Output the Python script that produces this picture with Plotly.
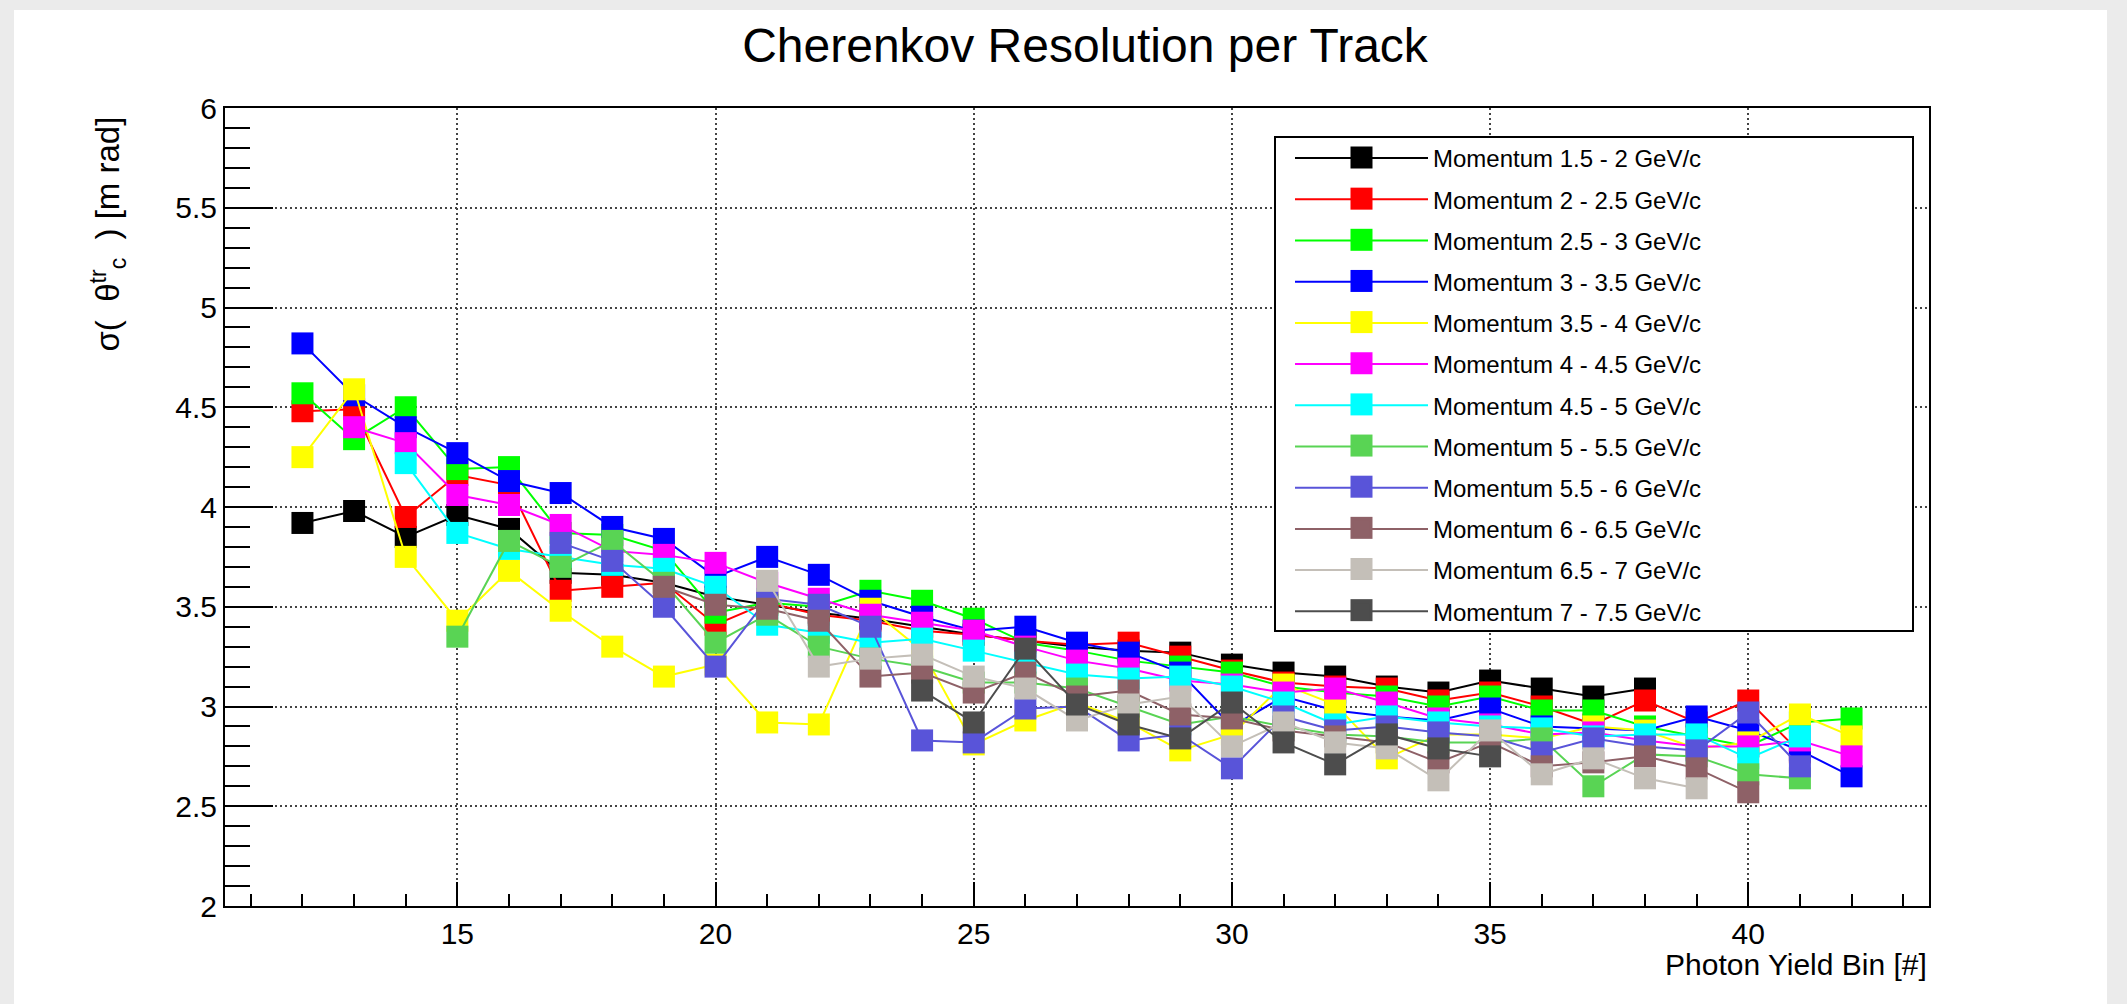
import plotly.graph_objects as go

# ---------------- data ----------------
photon_bins = [12, 13, 14, 15, 16, 17, 18, 19, 20, 21, 22, 23, 24, 25, 26, 27,
               28, 29, 30, 31, 32, 33, 34, 35, 36, 37, 38, 39, 40, 41, 42]

series_names = [
    "Momentum 1.5 - 2 GeV/c", "Momentum 2 - 2.5 GeV/c", "Momentum 2.5 - 3 GeV/c",
    "Momentum 3 - 3.5 GeV/c", "Momentum 3.5 - 4 GeV/c", "Momentum 4 - 4.5 GeV/c",
    "Momentum 4.5 - 5 GeV/c", "Momentum 5 - 5.5 GeV/c", "Momentum 5.5 - 6 GeV/c",
    "Momentum 6 - 6.5 GeV/c", "Momentum 6.5 - 7 GeV/c", "Momentum 7 - 7.5 GeV/c",
]

N = None
mom_1p5_2 = [3.92, 3.98, 3.85, 3.96, 3.89, 3.67, 3.66, 3.62, 3.55, 3.51, 3.47, 3.44, 3.40, 3.36, 3.33, 3.30,
             3.28, 3.27, 3.21, 3.17, 3.15, 3.10, 3.07, 3.13, 3.09, 3.05, 3.09, N, N, N, N]
mom_2_2p5 = [4.48, 4.49, 3.95, 4.16, 4.11, 3.58, 3.60, 3.62, 3.41, 3.52, 3.46, 3.43, 3.38, 3.36, 3.33, 3.31,
             3.32, 3.25, 3.18, 3.12, 3.10, 3.09, 3.03, 3.07, 3.00, 2.91, 3.03, 2.92, 3.03, 2.77, N]
mom_2p5_3 = [4.57, 4.34, 4.50, 4.19, 4.20, 3.87, 3.86, 3.78, 3.47, 3.52, 3.50, 3.58, 3.53, 3.44, 3.32, 3.28,
             3.23, 3.20, 3.17, 3.10, 3.07, 3.05, 3.00, 3.05, 2.98, 2.98, 2.90, 2.85, 2.80, 2.92, 2.94]
mom_3_3p5 = [4.82, 4.56, 4.40, 4.27, 4.13, 4.07, 3.90, 3.84, 3.65, 3.75, 3.66, 3.53, 3.45, 3.38, 3.40, 3.32,
             3.27, 3.17, 2.90, 3.05, 2.98, 2.95, 2.93, 2.99, 2.90, 2.89, 2.88, 2.95, 2.88, 2.78, 2.65]
mom_3p5_4 = [4.25, 4.59, 3.75, 3.43, 3.68, 3.48, 3.30, 3.15, 3.21, 2.92, 2.91, 3.49, 3.28, 2.81, 2.93, 3.02,
             2.92, 2.78, 2.86, 3.11, 3.01, 2.74, 2.86, 2.86, 2.84, 2.90, 2.88, 2.79, 2.82, 2.96, 2.85]
mom_4_4p5 = [N, 4.40, 4.32, 4.06, 4.01, 3.91, 3.78, 3.76, 3.72, 3.62, 3.54, 3.46, 3.42, 3.38, 3.30, 3.23,
             3.19, 3.13, 3.11, 3.07, 3.09, 3.02, 2.94, 2.91, 2.86, 2.87, 2.83, 2.80, 2.80, 2.83, 2.75]
mom_4p5_5 = [N, N, 4.22, 3.87, 3.79, 3.75, 3.71, 3.69, 3.60, 3.41, 3.37, 3.32, 3.34, 3.28, 3.22, 3.16,
             3.14, 3.15, 3.10, 3.02, 2.91, 2.95, 2.92, 2.90, 2.89, 2.85, 2.86, 2.86, 2.74, 2.85, N]
mom_5_5p5 = [N, N, N, 3.35, 3.83, 3.70, 3.83, 3.62, 3.32, 3.46, 3.30, 3.24, 3.20, 3.12, 3.12, 3.09,
             3.00, 2.91, 2.95, 2.90, 2.86, 2.85, 2.82, 2.82, 2.84, 2.60, 2.76, 2.75, 2.66, 2.64, N]
mom_5p5_6 = [N, N, N, N, N, 3.82, 3.73, 3.50, 3.20, 3.54, 3.51, 3.40, 2.83, 2.82, 2.99, 3.00,
             2.83, 2.86, 2.69, 2.95, 2.88, 2.90, 2.87, 2.85, 2.77, 2.84, 2.80, 2.78, 2.97, 2.70, N]
mom_6_6p5 = [N, N, N, N, N, N, N, 3.60, 3.51, 3.49, 3.43, 3.15, 3.17, 3.07, 3.17, 3.05,
             3.08, 2.96, 2.94, 2.88, 2.85, 2.82, 2.72, 2.82, 2.70, 2.72, 2.75, 2.69, 2.57, N, N]
mom_6p5_7 = [N, N, N, N, N, N, N, N, N, 3.63, 3.20, 3.24, 3.26, 3.15, 3.09, 2.93,
             3.01, 3.05, 2.80, 2.92, 2.82, 2.79, 2.63, 2.88, 2.66, 2.74, 2.64, 2.59, N, N, N]
mom_7_7p5 = [N, N, N, N, N, N, N, N, N, N, N, N, 3.08, 2.92, 3.29, 3.01,
             2.91, 2.84, 3.02, 2.82, 2.71, 2.86, 2.79, 2.75, N, N, N, N, N, N, N]

series_values = [mom_1p5_2, mom_2_2p5, mom_2p5_3, mom_3_3p5, mom_3p5_4, mom_4_4p5,
                 mom_4p5_5, mom_5_5p5, mom_5p5_6, mom_6_6p5, mom_6p5_7, mom_7_7p5]

series_colors = ["#000000", "#ff0000", "#00ff00", "#0000ff", "#ffff00", "#ff00ff",
                 "#00ffff", "#59d454", "#5954d9", "#8e6167", "#c4bfb8", "#4d4d4d"]

x_ticks = [15, 20, 25, 30, 35, 40]
y_ticks = [2, 2.5, 3, 3.5, 4, 4.5, 5, 5.5, 6]

# ---------------- layout geometry (pixels) ----------------
W, H = 2127, 1004
L, R, T, B = 225, 1929, 108, 906
PW, PH = R - L, B - T


def px(x):
    return (x - L) / PW


def py(y):
    return (B - y) / PH


FONT = "Liberation Sans, Arial, Helvetica, sans-serif"

fig = go.Figure()
for i, (name, vals, col) in enumerate(zip(series_names, series_values, series_colors)):
    fig.add_trace(go.Scatter(
        x=photon_bins, y=vals, name=name, mode="lines+markers",
        line=dict(color=col, width=2),
        marker=dict(symbol="square", size=22, color=col, line=dict(width=0)),
        legendgroup="g%d" % i,
        connectgaps=False,
    ))

shapes = [
    # white page panel on grey background
    dict(type="rect", xref="paper", yref="paper", layer="below",
         x0=px(14), x1=px(2107), y0=py(1010), y1=py(10),
         fillcolor="white", line=dict(width=0)),
    # legend box
    dict(type="rect", xref="paper", yref="paper", layer="above",
         x0=px(1275), x1=px(1913), y0=py(631), y1=py(137),
         fillcolor="white", line=dict(color="black", width=2)),
]

# bigger legend squares (ROOT style) under plotly's capped legend symbols
LEG_X, LEG_ITEMW = 1290, 133
LEG_SYM_X = LEG_X + 20 + (LEG_ITEMW - 30) / 2
LEG_ROW0, LEG_DY = 157.5, 41.15
for i, col in enumerate(series_colors):
    ry = LEG_ROW0 + i * LEG_DY
    shapes.append(dict(type="rect", xref="paper", yref="paper", layer="above",
                       x0=px(LEG_SYM_X - 11), x1=px(LEG_SYM_X + 11),
                       y0=py(ry + 11), y1=py(ry - 11),
                       fillcolor=col, line=dict(width=0)))

annotations = [
    dict(text="Photon Yield Bin [#]", xref="paper", yref="paper",
         x=px(1929), y=py(964), xanchor="right", yanchor="middle",
         showarrow=False, font=dict(family=FONT, size=30, color="black")),
    dict(text="σ(  θ<sup>tr</sup><sub>c</sub>  ) [m rad]", xref="paper", yref="paper",
         x=px(108), y=py(114), xanchor="center", yanchor="top", textangle=-90,
         showarrow=False, font=dict(family=FONT, size=33, color="black")),
]

fig.update_layout(
    width=W, height=H, autosize=False,
    margin=dict(l=L, r=W - R, t=T, b=H - B, pad=0),
    paper_bgcolor="#ebebeb", plot_bgcolor="white",
    font=dict(family=FONT, color="black"),
    title=dict(text="Cherenkov Resolution per Track", x=1085 / W, xanchor="center",
               xref="container", yref="container", y=1 - 45 / H, yanchor="middle",
               font=dict(family=FONT, size=48, color="black")),
    showlegend=True,
    legend=dict(x=px(LEG_X), y=py(136), xanchor="left", yanchor="top",
                bgcolor="rgba(0,0,0,0)", borderwidth=0,
                font=dict(family=FONT, size=24, color="black"),
                tracegroupgap=7, traceorder="grouped", itemwidth=LEG_ITEMW),
    shapes=shapes,
    annotations=annotations,
)

fig.update_xaxes(
    range=[10.5, 43.5], tickvals=x_ticks, ticks="inside", ticklen=24, tickwidth=2,
    tickcolor="black", showline=True, linewidth=2, linecolor="black", mirror=True,
    showgrid=True, gridcolor="#444444", gridwidth=2, griddash="2px,3px",
    zeroline=False, tickfont=dict(family=FONT, size=30, color="black"),
    minor=dict(dtick=1, tick0=0, ticks="inside", ticklen=12, tickwidth=2,
               tickcolor="black", showgrid=False),
)
fig.update_yaxes(
    range=[2, 6], tickvals=y_ticks, ticks="inside", ticklen=48, tickwidth=2,
    tickcolor="black", showline=True, linewidth=2, linecolor="black", mirror=True,
    showgrid=True, gridcolor="#444444", gridwidth=2, griddash="2px,3px",
    zeroline=False, tickfont=dict(family=FONT, size=30, color="black"),
    minor=dict(dtick=0.1, tick0=0, ticks="inside", ticklen=25, tickwidth=2,
               tickcolor="black", showgrid=False),
)

fig.write_html("out.html")
